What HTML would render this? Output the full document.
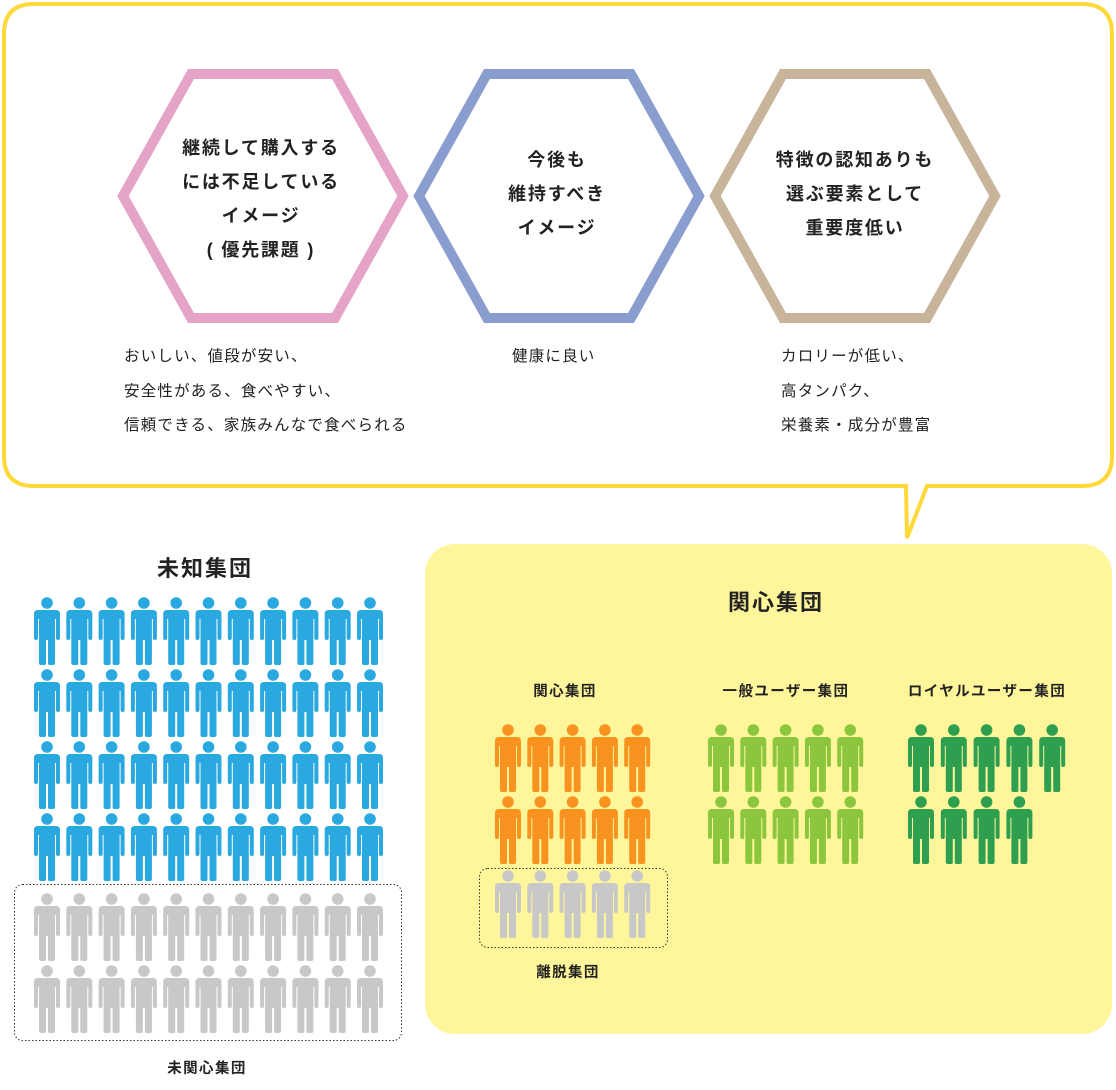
<!DOCTYPE html>
<html><head><meta charset="utf-8"><style>
html,body{margin:0;padding:0;background:#fff;}
body{width:1116px;height:1090px;position:relative;overflow:hidden;font-family:"Liberation Sans","Noto Sans CJK JP",sans-serif;color:#222;}
.t{position:absolute;white-space:nowrap;}
.h{font-weight:bold;font-size:18px;letter-spacing:1.8px;text-align:center;line-height:34px;transform:translateX(-50%);}
.d{font-size:15.5px;letter-spacing:1.2px;line-height:34.5px;}
.c{transform:translateX(-50%);font-weight:bold;}
.s{font-size:14.5px;letter-spacing:1.4px;}
</style></head><body>
<svg width="1116" height="1090" style="position:absolute;left:0;top:0">
<defs>
<g id="p">
<circle cx="13" cy="6" r="5.8"/>
<path d="M4,13 H22 Q26,13 26,17 V41 Q26,43 24,43 Q22,43 22,41 V22 H21 V66 Q21,68 19,68 H15.5 Q14,68 14,66 V43 H12 V66 Q12,68 10.5,68 H7 Q5,68 5,66 V22 H4 V41 Q4,43 2,43 Q0,43 0,41 V17 Q0,13 4,13 Z"/>
</g>
</defs>
<path d="M34,4 H1082 Q1112,4 1112,34 V456 Q1112,486 1082,486 H927 L907,538 L906,486 H34 Q4,486 4,456 V34 Q4,4 34,4 Z" fill="#fff" stroke="#FFD83A" stroke-width="4"/>
<rect x="425" y="544" width="687" height="490" rx="30" fill="#FFF69B"/>
<polygon points="123,196 191,74 335,74 403,196 335,318 191,318" fill="none" stroke="#E6A3C8" stroke-width="10"/>
<polygon points="419,196 487,74 631,74 699,196 631,318 487,318" fill="none" stroke="#8A9DCF" stroke-width="10"/>
<polygon points="715,196 783,74 927,74 995,196 927,318 783,318" fill="none" stroke="#C8B49A" stroke-width="10"/>
<rect x="14.5" y="884.5" width="387" height="156" rx="8" fill="none" stroke="#333" stroke-width="1" stroke-dasharray="1.5,2"/>
<rect x="479.5" y="868.5" width="188" height="79" rx="8" fill="none" stroke="#333" stroke-width="1" stroke-dasharray="1.5,2"/>
<g id="icons"></g>
</svg>
<div class="t h" style="left:261px;top:131px">継続して購入する<br>には不足している<br>イメージ<br>( 優先課題 )</div>
<div class="t h" style="left:557px;top:143px">今後も<br>維持すべき<br>イメージ</div>
<div class="t h" style="left:855px;top:143px">特徴の認知ありも<br>選ぶ要素として<br>重要度低い</div>
<div class="t d" style="left:124px;top:340px">おいしい、値段が安い、<br>安全性がある、食べやすい、<br>信頼できる、家族みんなで食べられる</div>
<div class="t d" style="left:512px;top:340px">健康に良い</div>
<div class="t d" style="left:781px;top:340px">カロリーが低い、<br>高タンパク、<br>栄養素・成分が豊富</div>
<div class="t c" style="left:205px;top:551px;font-size:22px;letter-spacing:2px">未知集団</div>
<div class="t c" style="left:776px;top:585px;font-size:22px;letter-spacing:2px">関心集団</div>
<div class="t c s" style="left:565px;top:680px">関心集団</div>
<div class="t c s" style="left:786px;top:680px">一般ユーザー集団</div>
<div class="t c s" style="left:987px;top:680px">ロイヤルユーザー集団</div>
<div class="t c s" style="left:568px;top:961px">離脱集団</div>
<div class="t c s" style="left:207px;top:1057px">未関心集団</div>
<script>
var g=document.getElementById('icons'),ns='http://www.w3.org/2000/svg';
function put(x,y,c){var u=document.createElementNS(ns,'use');u.setAttribute('href','#p');u.setAttribute('x',x);u.setAttribute('y',y);u.setAttribute('fill',c);g.appendChild(u);}
var rows=[597,669,741,813,893,965];
for(var r=0;r<6;r++)for(var i=0;i<11;i++)put(34+i*32.3,rows[r],r<4?'#29A9E0':'#C8C8C8');
var orow=[724,796,870];
for(var r=0;r<3;r++)for(var i=0;i<5;i++)put(495+i*32.3,orow[r],r<2?'#F7931E':'#C8C8C8');
for(var r=0;r<2;r++)for(var i=0;i<5;i++)put(708+i*32.3,724+r*72,'#8CC63F');
for(var r=0;r<2;r++)for(var i=0;i<(r?4:5);i++)put(908+i*32.8,724+r*72,'#2E9E4F');
</script>
</body></html>
